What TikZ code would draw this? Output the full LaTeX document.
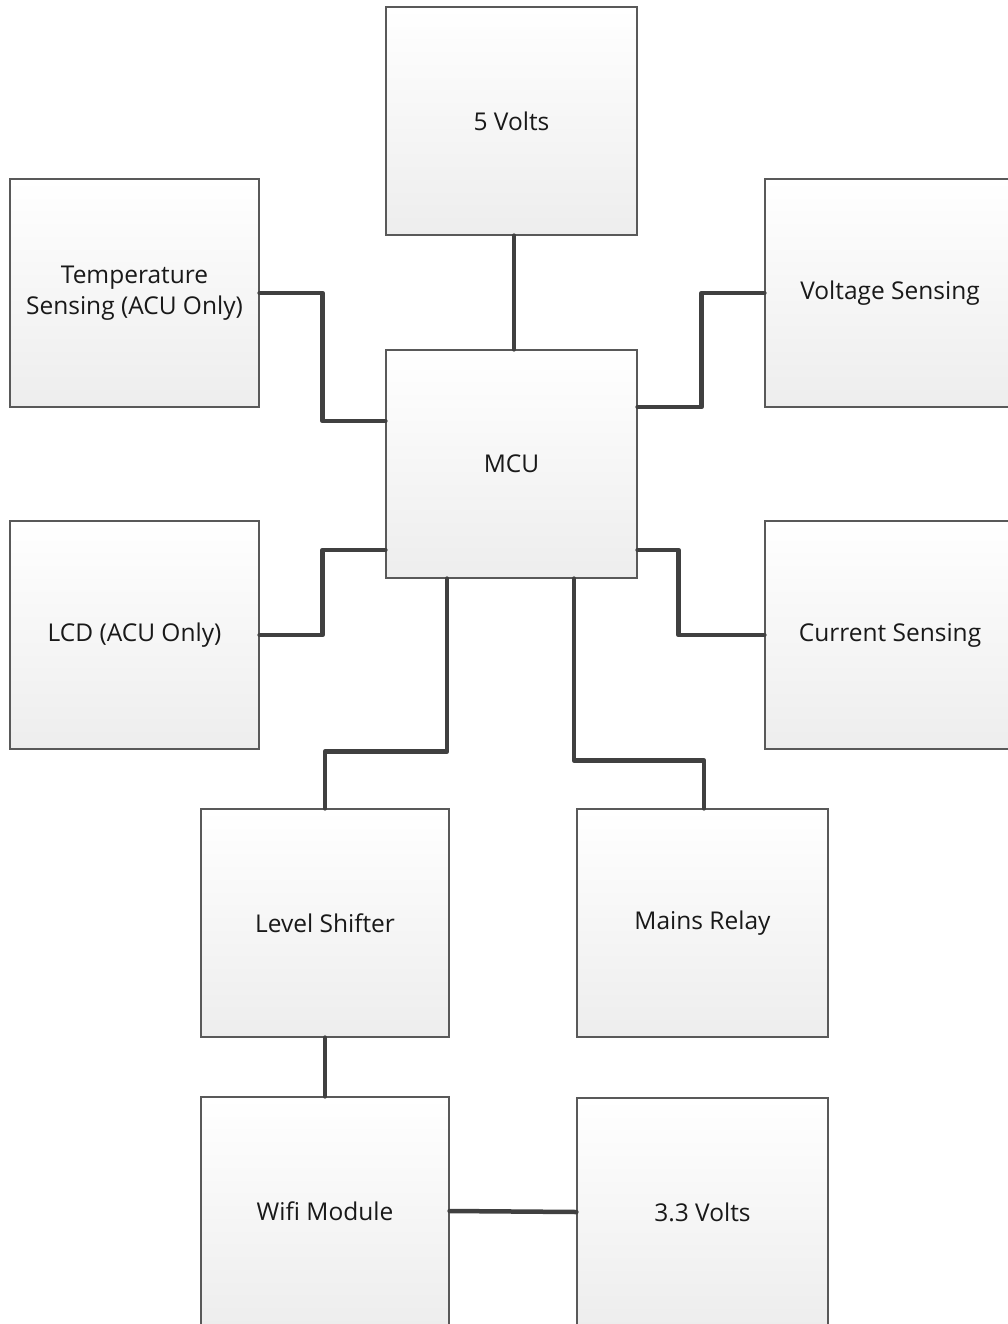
\documentclass[tikz,border=0pt]{standalone}
\usepackage{fontspec}
\setmainfont[Ligatures=NoCommon]{Open Sans}
\begin{document}
\begin{tikzpicture}[x=1pt,y=-1pt,
  blk/.style={draw=black!65, line width=1.2pt, top color=white, bottom color=black!7,
    minimum height=228pt, inner sep=2pt, align=center,
    font=\fontsize{24.5}{31}\selectfont, text=black!90},
  wire/.style={draw=black!75, line width=4.5pt, line cap=round, line join=round}]
\useasboundingbox (0,0) rectangle (1008,1324);
\clip (0,0) rectangle (1008,1324);
\node[blk, minimum width=251pt] (v5)    at (511.5,121) {5 Volts};
\node[blk, minimum width=249pt] (temp)  at (134.5,293) {Temperature\\Sensing (ACU Only)};
\node[blk, minimum width=250pt] (volt)  at (890,293)   {Voltage Sensing};
\node[blk, minimum width=251pt] (mcu)   at (511.5,464) {MCU};
\node[blk, minimum width=249pt] (lcd)   at (134.5,635) {LCD (ACU Only)};
\node[blk, minimum width=250pt] (curr)  at (890,635)   {Current Sensing};
\node[blk, minimum width=248pt] (lvl)   at (325,923)   {Level Shifter};
\node[blk, minimum width=251pt] (mains) at (702.5,923) {Mains Relay};
\node[blk, minimum width=248pt] (wifi)  at (325,1211)  {Wifi Module};
\node[blk, minimum width=251pt] (v33)   at (702.5,1212){3.3 Volts};

\draw[wire] ([xshift=2.5pt]v5.south) -- ([xshift=2.5pt]mcu.north);
\draw[wire] (temp.east) -- ++(63,0) |- ([yshift=43pt]mcu.west);
\draw[wire] ([yshift=57pt]mcu.east) -- ++(64,0) |- (volt.west);
\draw[wire] (lcd.east) -- ++(63,0) |- ([yshift=-86pt]mcu.west);
\draw[wire] ([yshift=-86pt]mcu.east) -- ++(41,0) |- (curr.west);
\draw[wire] ([xshift=-64.5pt]mcu.south) -- ++(0,173) -| (lvl.north);
\draw[wire] ([xshift=62.5pt]mcu.south) -- ++(0,182) -| ([xshift=1.5pt]mains.north);
\draw[wire] (lvl.south) -- (wifi.north);
\draw[wire] (wifi.east) -- (v33.west);
\end{tikzpicture}
\end{document}
